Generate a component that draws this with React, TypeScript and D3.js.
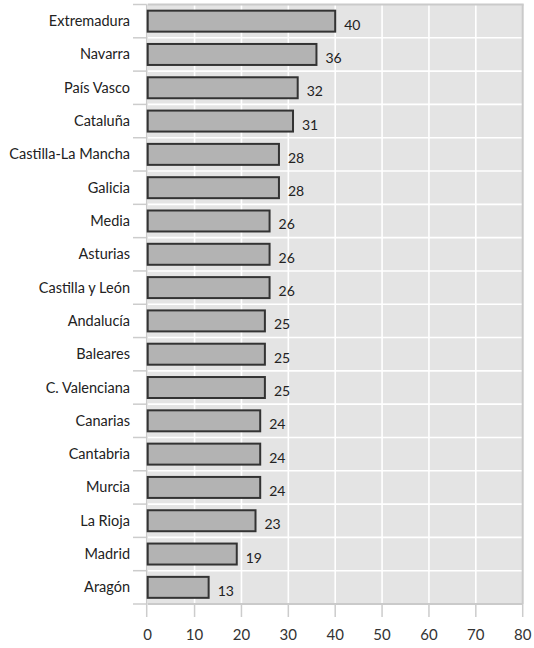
import React from "react";
import * as d3 from "d3";

const categories = [
  "Extremadura", "Navarra", "País Vasco", "Cataluña", "Castilla-La Mancha", "Galicia",
  "Media", "Asturias", "Castilla y León", "Andalucía", "Baleares", "C. Valenciana",
  "Canarias", "Cantabria", "Murcia", "La Rioja", "Madrid", "Aragón",
];
const values = [40, 36, 32, 31, 28, 28, 26, 26, 26, 25, 25, 25, 24, 24, 24, 23, 19, 13];
const xTicks = [0, 10, 20, 30, 40, 50, 60, 70, 80];

const W = 534;
const H = 648;
const FONT = "Lato, 'Open Sans', sans-serif";

export default function App() {
  const x = d3.scaleLinear().domain([0, 80]).range([147.7, 522.7]);
  const y = d3.scaleBand<string>().domain(categories).range([4.5, 604]).paddingInner(0.37).paddingOuter(0.185);
  const step = y.step();
  const top = 4.5;
  const bottom = 604;
  const boundaries = d3.range(categories.length + 1).map((i) => top + i * (bottom - top) / categories.length);
  const x0 = x(0);
  const x1 = x(80);

  return (
    <svg width={W} height={H} style={{ position: "absolute", left: 0, top: 0 }} fontFamily={FONT}>
      <rect x={x0} y={top} width={x1 - x0} height={bottom - top} fill="#e4e4e4" />
      {xTicks.slice(1, -1).map((t) => (
        <line key={"gx" + t} x1={x(t)} x2={x(t)} y1={top} y2={bottom} stroke="#ffffff" strokeWidth={1.6} />
      ))}
      {boundaries.slice(1, -1).map((b, i) => (
        <line key={"gy" + i} x1={x0} x2={x1} y1={b} y2={b} stroke="#ffffff" strokeWidth={1.6} />
      ))}
      {/* panel border */}
      <line x1={x0} x2={x1 + 1} y1={top} y2={top} stroke="#cacaca" strokeWidth={2} />
      <line x1={x1} x2={x1} y1={top} y2={bottom} stroke="#cacaca" strokeWidth={2} />
      <line x1={x0} x2={x1} y1={bottom} y2={bottom} stroke="#cacaca" strokeWidth={2} />
      <line x1={x0 - 1} x2={x0 - 1} y1={top} y2={bottom} stroke="#cacaca" strokeWidth={1.5} />
      {/* y ticks */}
      {boundaries.map((b, i) => (
        <line key={"ty" + i} x1={133} x2={x0 - 1} y1={b} y2={b} stroke="#cccccc" strokeWidth={1.5} />
      ))}
      {/* x ticks */}
      {xTicks.map((t) => (
        <line key={"tx" + t} x1={x(t) - (t === 0 ? 1 : 0)} x2={x(t) - (t === 0 ? 1 : 0)} y1={bottom} y2={617} stroke="#cccccc" strokeWidth={1.5} />
      ))}
      {xTicks.map((t) => (
        <text key={"lx" + t} x={x(t)} y={640} textAnchor="middle" fontSize={15} fill="#333">
          {t}
        </text>
      ))}
      {categories.map((c, i) => {
        const by = y(c)!;
        const bh = y.bandwidth();
        return (
          <g key={c}>
            <rect x={x0} y={by} width={x(values[i]) - x0} height={bh} fill="#b3b3b3" stroke="#333" strokeWidth={2} />
            <text x={130} y={by + bh / 2 + 5} textAnchor="end" fontSize={14.5} fill="#222">
              {c}
            </text>
            <text x={x(values[i]) + 9} y={by + bh / 2 + 8.5} fontSize={14} fill="#222">
              {values[i]}
            </text>
          </g>
        );
      })}
    </svg>
  );
}
